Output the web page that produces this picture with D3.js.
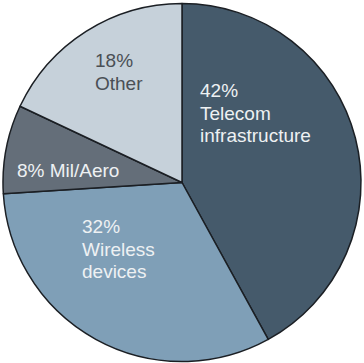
<!DOCTYPE html>
<html lang="en">
<head>
<meta charset="UTF-8">
<title>Market share pie</title>
<script src="https://d3js.org/d3.v7.min.js"></script>
<style>
    body { margin: 0; background: #fff; }
    svg { display: block; }
    .label { font-family: "Liberation Sans", Arial, sans-serif; font-size: 19px; }
</style>
</head>
<body>
<svg id="chart" width="364" height="363"></svg>
<script>
    // slices, clockwise from 12 o'clock
    const categories = ["Telecom infrastructure", "Wireless devices", "Mil/Aero", "Other"];
    const values = [42, 32, 8, 18];
    const colors = ["#455a6b", "#7f9fb7", "#646e79", "#c6d1da"];
    const textColors = ["#eef1f3", "#eef1f3", "#eef1f3", "#4a4f55"];
    // label lines per slice and where the text block starts
    const labelLines = [["42%", "Telecom", "infrastructure"], ["32%", "Wireless", "devices"], ["8% Mil/Aero"], ["18%", "Other"]];
    const labelPos = [[200, 97], [82, 233], [17, 177], [95, 67]];

    const width = 364, height = 363;
    const cx = 182, cy = 182.5, radius = 179;
    const lineHeight = 22.5;

    const svg = d3.select("#chart");
    const g = svg.append("g").attr("transform", `translate(${cx},${cy})`);

    const pie = d3.pie().sort(null).value(d => d);
    const arc = d3.arc().innerRadius(0).outerRadius(radius);

    g.selectAll("path")
        .data(pie(values))
        .join("path")
        .attr("d", arc)
        .attr("fill", (d, i) => colors[i])
        .attr("stroke", "#1b1f24")
        .attr("stroke-width", 1.5)
        .attr("stroke-linejoin", "round");

    labelLines.forEach((lines, i) => {
        const t = svg.append("text")
            .attr("class", "label")
            .attr("x", labelPos[i][0])
            .attr("y", labelPos[i][1])
            .attr("fill", textColors[i]);
        lines.forEach((line, j) => {
            t.append("tspan")
                .attr("x", labelPos[i][0])
                .attr("y", labelPos[i][1] + j * lineHeight)
                .text(line);
        });
    });
</script>
</body>
</html>
